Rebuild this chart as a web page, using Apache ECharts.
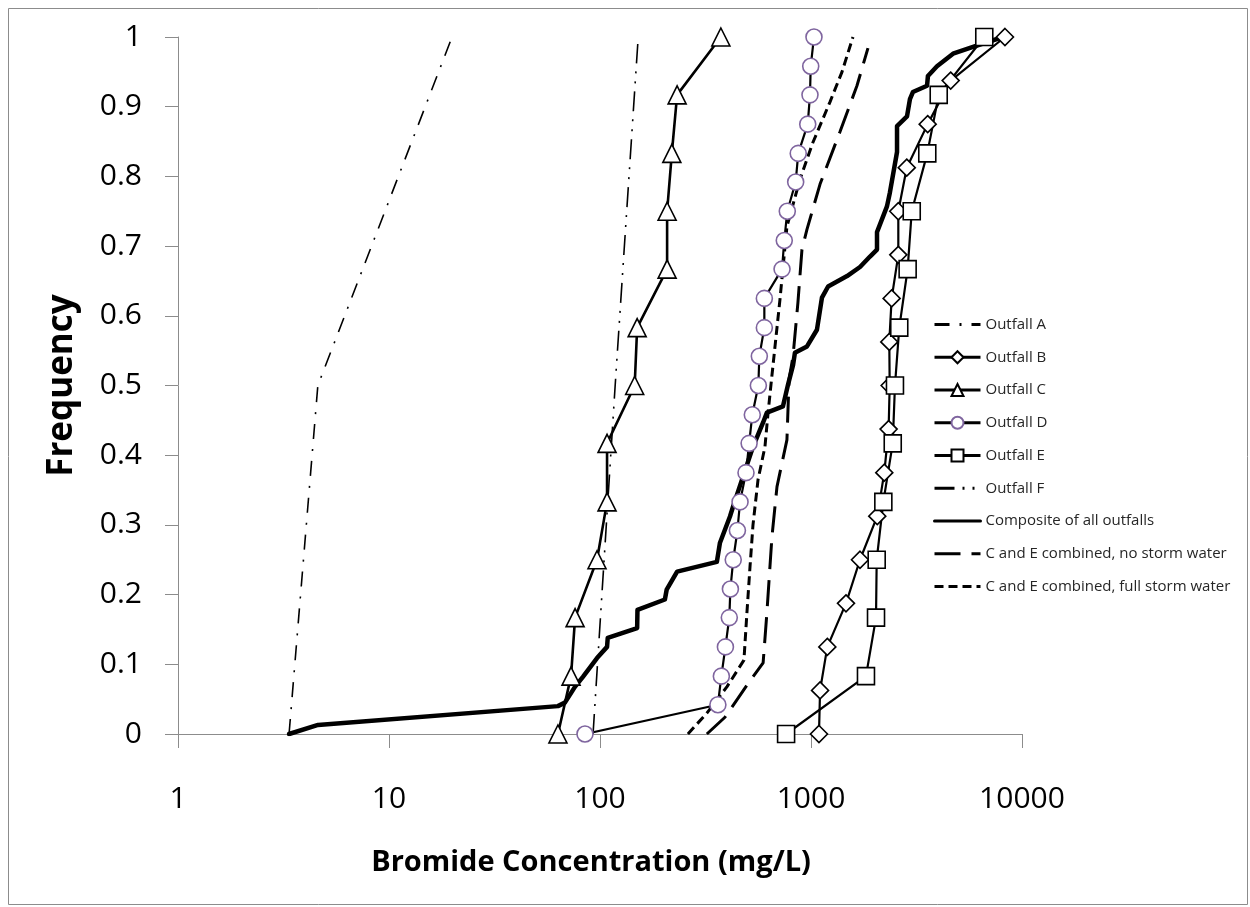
<!DOCTYPE html>
<html>
<head>
<meta charset="utf-8">
<script src="https://cdn.jsdelivr.net/npm/echarts@6/dist/echarts.min.js"></script>
<style>
html,body{margin:0;padding:0;background:#fff;}
#chart{width:1250px;height:907px;}
</style>
</head>
<body>
<div id="chart"></div>
<script>
// ---- Data (Bromide concentration in mg/L vs cumulative frequency) ----
const outfallA_conc = [3.36, 4.6, 19.9];
const outfallA_freq = [0, 0.5, 1];

const outfallB_conc = [1091, 1104, 1195, 1465, 1707, 2061, 2225, 2333, 2360, 2350, 2411, 2593, 2593, 2843, 3573, 4592, 8303];
const outfallB_freq = [0, 0.0625, 0.125, 0.1875, 0.25, 0.3125, 0.375, 0.4375, 0.5, 0.5625, 0.625, 0.6875, 0.75, 0.8125, 0.875, 0.9375, 1];

const outfallC_conc = [63.2, 72.9, 76.2, 96.8, 108, 108, 146, 150, 208, 208, 219, 232, 374];
const outfallC_freq = [0, 0.083, 0.167, 0.25, 0.333, 0.417, 0.5, 0.583, 0.667, 0.75, 0.833, 0.917, 1];

const outfallD_conc = [84.9, 362, 376, 393, 410, 415, 428, 448, 461, 492, 509, 527, 563, 569, 601, 601, 729, 747, 772, 846, 870, 965, 989, 997, 1033];
const outfallD_freq = [0, 0.042, 0.083, 0.125, 0.167, 0.208, 0.25, 0.292, 0.333, 0.375, 0.417, 0.458, 0.5, 0.542, 0.583, 0.625, 0.667, 0.708, 0.75, 0.792, 0.833, 0.875, 0.917, 0.958, 1];

const outfallE_conc = [762, 1822, 2033, 2048, 2202, 2440, 2500, 2620, 2871, 3002, 3557, 4030, 6626];
const outfallE_freq = [0, 0.083, 0.167, 0.25, 0.333, 0.417, 0.5, 0.583, 0.667, 0.75, 0.833, 0.917, 1];

const outfallF_conc = [92.7, 118, 151];
const outfallF_freq = [0, 0.5, 0.99];

const composite_conc = [3.36, 4.61, 63.2, 68.2, 76.2, 83.0, 96.8, 108, 108.8, 150, 150.5, 203, 207, 232, 358, 370, 413, 427, 471, 531, 593, 618, 736, 778, 822, 839, 957, 1067, 1127, 1205, 1482, 1707, 1904, 2055, 2055, 2291, 2366, 2557, 2557, 2851, 2944, 3040, 3548, 3582, 3955, 4711, 5860, 8130];
const composite_freq = [0, 0.013, 0.040, 0.045, 0.068, 0.082, 0.109, 0.125, 0.138, 0.152, 0.178, 0.193, 0.207, 0.233, 0.247, 0.274, 0.312, 0.326, 0.365, 0.412, 0.447, 0.461, 0.470, 0.501, 0.529, 0.547, 0.556, 0.580, 0.626, 0.642, 0.657, 0.670, 0.685, 0.695, 0.720, 0.757, 0.777, 0.835, 0.872, 0.886, 0.911, 0.921, 0.930, 0.944, 0.958, 0.976, 0.986, 1];

const noStorm_conc = [321, 391, 497, 593, 618, 653, 690, 769, 787, 822, 867, 906, 957, 1104, 1372, 1651, 1862];
const noStorm_freq = [0, 0.024, 0.070, 0.102, 0.174, 0.283, 0.355, 0.422, 0.509, 0.542, 0.619, 0.695, 0.724, 0.789, 0.864, 0.930, 0.984];

const fullStorm_conc = [261, 321, 400, 481, 497, 514, 531, 561, 605, 626, 646, 713, 769, 887, 1022, 1231, 1403, 1581];
const fullStorm_freq = [0, 0.030, 0.068, 0.106, 0.174, 0.240, 0.300, 0.365, 0.412, 0.461, 0.501, 0.624, 0.728, 0.796, 0.849, 0.907, 0.950, 1];

const seriesNames = ['Outfall A', 'Outfall B', 'Outfall C', 'Outfall D', 'Outfall E', 'Outfall F',
  'Composite of all outfalls', 'C and E combined, no storm water', 'C and E combined, full storm water'];
const markerSeries = ['Outfall B', 'Outfall C', 'Outfall D', 'Outfall E'];

const yTicks = [0, 0.1, 0.2, 0.3, 0.4, 0.5, 0.6, 0.7, 0.8, 0.9, 1];

function zip(xs, ys) { return xs.map((x, i) => [x, ys[i]]); }

const black = '#000000';
const lineSeries = (name, xs, ys, extra) => Object.assign({
  name: name,
  type: 'line',
  data: zip(xs, ys),
  symbol: 'none',
  smooth: false,
  animation: false,
  lineStyle: { color: black, width: 2, cap: 'butt', join: 'round' },
  itemStyle: { color: black },
  emphasis: { disabled: true }
}, extra);

const hollow = (symbol, size, border) => ({
  symbol: symbol,
  symbolSize: size,
  showSymbol: true,
  itemStyle: { color: '#ffffff', borderColor: border, borderWidth: 1.6 }
});

const legendData = seriesNames.map(n => markerSeries.indexOf(n) >= 0
  ? { name: n }
  : { name: n, itemStyle: { color: 'rgba(0,0,0,0)', borderColor: 'rgba(0,0,0,0)', borderWidth: 0, opacity: 0 } });

const chart = echarts.init(document.getElementById('chart'), null, { renderer: 'canvas' });

const option = {
  backgroundColor: '#ffffff',
  animation: false,
  graphic: [{
    type: 'rect', shape: { x: 8.5, y: 8.5, width: 1239, height: 896 },
    style: { fill: 'none', stroke: '#8c8c8c', lineWidth: 1 }, silent: true, z: -1
  }],
  grid: { left: 178, right: 228, top: 37, bottom: 173, containLabel: false },
  legend: {
    orient: 'vertical',
    left: 928,
    top: 312,
    itemWidth: 46,
    itemHeight: 15,
    itemGap: 17.75,
    data: legendData,
    lineStyle: { width: 3 },
    textStyle: { fontFamily: 'Open Sans', fontSize: 15, color: '#262626' }
  },
  xAxis: {
    type: 'log',
    logBase: 10,
    min: 1,
    max: 10000,
    name: 'Bromide Concentration (mg/L)',
    nameLocation: 'middle',
    nameGap: 114,
    nameTextStyle: { fontFamily: 'Open Sans', fontWeight: 'bold', fontSize: 29, color: '#000', padding: [0, 18, 0, 0] },
    axisLine: { show: true, lineStyle: { color: '#8c8c8c', width: 1 } },
    axisTick: { show: true, length: 14, inside: false, lineStyle: { color: '#8c8c8c' } },
    minorTick: { show: false },
    splitLine: { show: false },
    axisLabel: {
      fontFamily: 'Open Sans', fontSize: 30, color: '#000', margin: 50,
      formatter: v => String(Math.round(v))
    }
  },
  yAxis: {
    type: 'value',
    min: yTicks[0],
    max: yTicks[yTicks.length - 1],
    interval: 0.1,
    name: 'Frequency',
    nameLocation: 'middle',
    nameGap: 98,
    nameTextStyle: { fontFamily: 'Open Sans', fontWeight: 'bold', fontSize: 35, color: '#000' },
    axisLine: { show: true, lineStyle: { color: '#8c8c8c', width: 1 } },
    axisTick: { show: true, length: 13, inside: false, lineStyle: { color: '#8c8c8c' } },
    splitLine: { show: false },
    axisLabel: { fontFamily: 'Open Sans', fontSize: 30, color: '#000', margin: 36 }
  },
  series: [
    lineSeries(seriesNames[0], outfallA_conc, outfallA_freq, {
      lineStyle: { color: black, width: 1.6, type: [15, 10, 2, 10], cap: 'butt' }
    }),
    lineSeries(seriesNames[1], outfallB_conc, outfallB_freq, Object.assign(
      hollow('diamond', 17, black), { lineStyle: { color: black, width: 2.2 } })),
    lineSeries(seriesNames[2], outfallC_conc, outfallC_freq, Object.assign(
      hollow('triangle', 18, black), { lineStyle: { color: black, width: 2.6 } })),
    lineSeries(seriesNames[3], outfallD_conc, outfallD_freq, Object.assign(
      hollow('circle', 16, '#7f659f'), { lineStyle: { color: black, width: 2.2 } })),
    lineSeries(seriesNames[4], outfallE_conc, outfallE_freq, Object.assign(
      hollow('rect', 17, black), { lineStyle: { color: black, width: 2.2 } })),
    lineSeries(seriesNames[5], outfallF_conc, outfallF_freq, {
      lineStyle: { color: black, width: 1.6, type: [20, 8, 2, 8, 2, 8], cap: 'butt' }
    }),
    lineSeries(seriesNames[6], composite_conc, composite_freq, {
      lineStyle: { color: black, width: 4.5, join: 'round', cap: 'round' }
    }),
    lineSeries(seriesNames[7], noStorm_conc, noStorm_freq, {
      lineStyle: { color: black, width: 3, type: [26, 11], cap: 'butt' }
    }),
    lineSeries(seriesNames[8], fullStorm_conc, fullStorm_freq, {
      lineStyle: { color: black, width: 3, type: [9, 5], cap: 'butt' }
    })
  ]
};

chart.setOption(option);
</script>
</body>
</html>
